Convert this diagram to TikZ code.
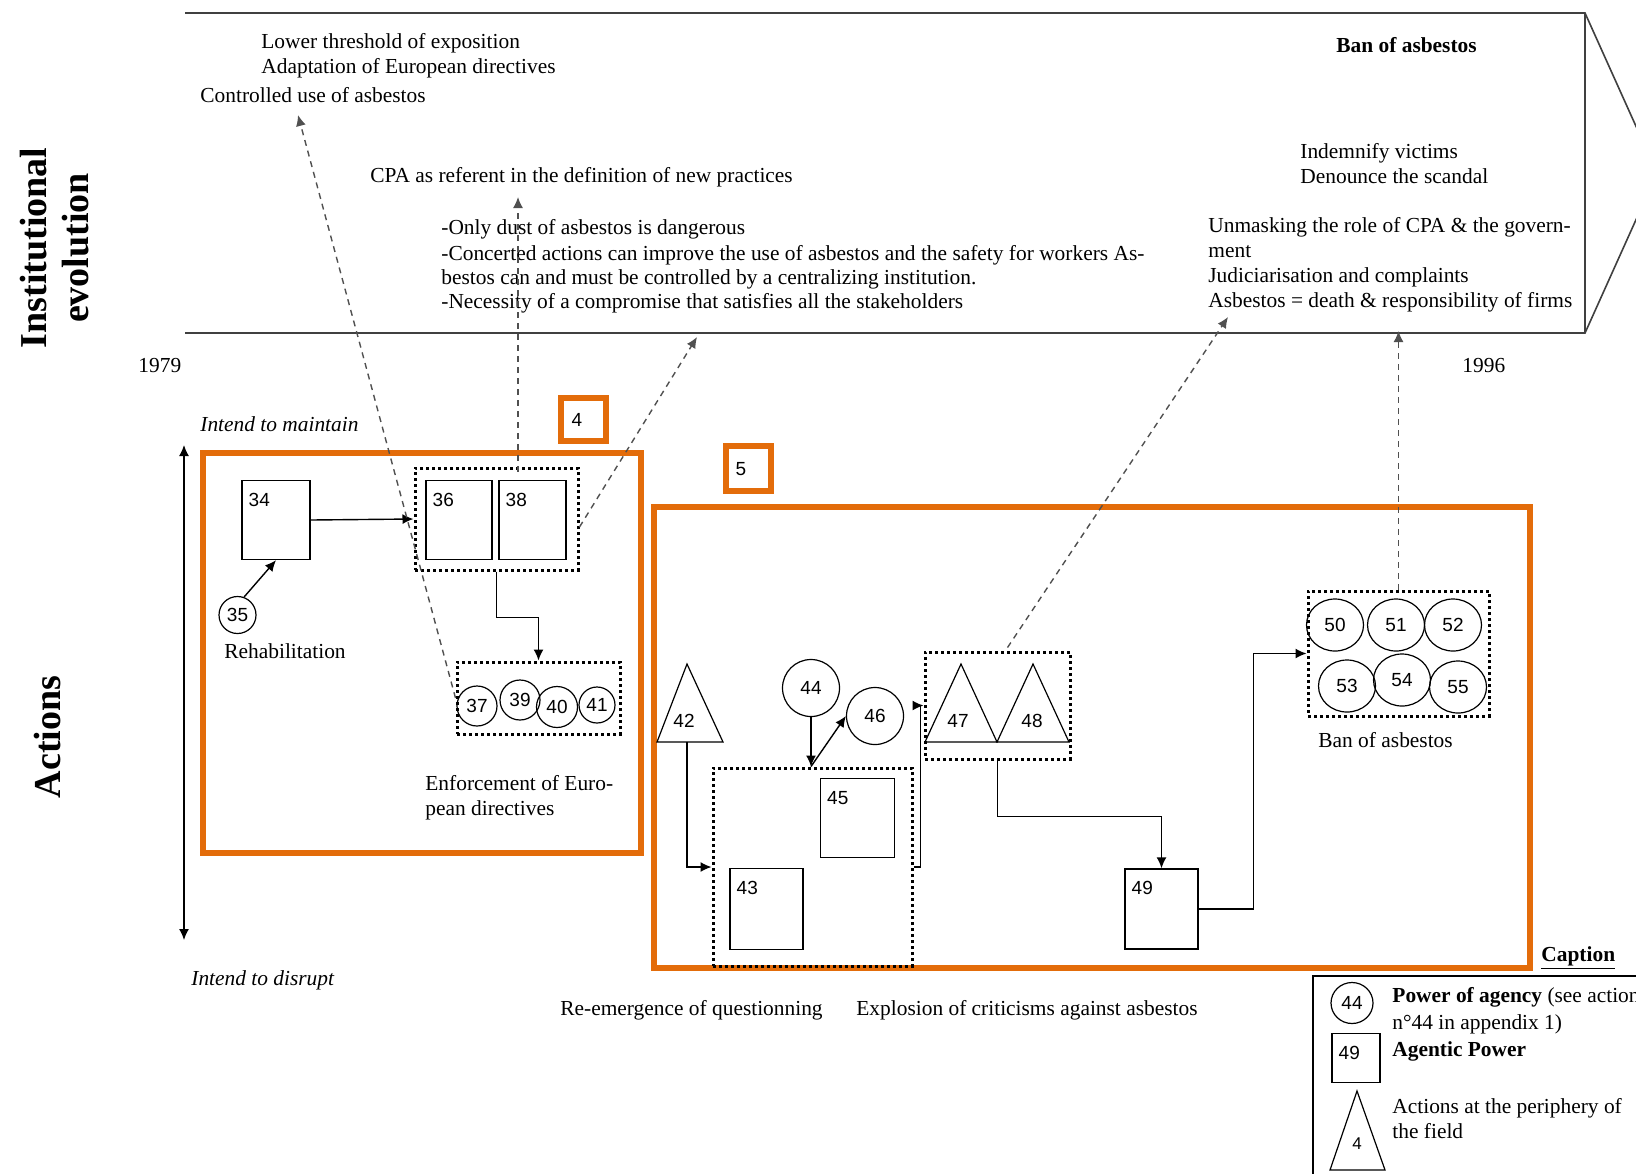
\documentclass[tikz,border=0pt]{standalone}
\usepackage{fontspec}
\setmainfont{Liberation Serif}
\newfontfamily\numfont{Liberation Sans}
\usetikzlibrary{arrows.meta,calc,shapes.geometric}
\definecolor{orng}{HTML}{E36C0A}
\definecolor{dgray}{HTML}{505050}
\begin{document}
\begin{tikzpicture}[x=0.5pt,y=-0.5pt,
  txt/.style={anchor=base west,inner sep=0pt,font=\fontsize{10.7}{12.5}\selectfont},
  itxt/.style={anchor=base west,inner sep=0pt,font=\fontsize{10.7}{12.5}\selectfont\itshape},
  btxt/.style={anchor=base west,inner sep=0pt,font=\fontsize{10.7}{12.5}\selectfont\bfseries},
  num/.style={inner sep=0pt,font=\numfont\fontsize{9.5}{10}\selectfont},
  sqbox/.style={draw,line width=0.7pt,inner sep=0pt},
  circ/.style={draw,line width=0.6pt,circle,inner sep=0pt,font=\numfont\fontsize{9.5}{10}\selectfont},
  ell/.style={draw,line width=0.6pt,ellipse,inner sep=0pt,minimum width=28.5pt,minimum height=26pt,font=\numfont\fontsize{9.5}{10}\selectfont},
  grp/.style={draw,line width=1.5pt,dash pattern=on 1.5pt off 1.5pt,inner sep=0pt},
  obox/.style={draw=orng,line width=2.8pt,inner sep=0pt},
  tri/.style={draw,line width=0.6pt},
  arr/.style={-{Latex[length=5.5pt,width=5pt]},line width=0.7pt},
  darr/.style={-{Latex[length=5.5pt,width=5pt]},line width=0.7pt,dgray,dash pattern=on 3pt off 2.5pt},
  rot/.style={rotate=90,font=\bfseries\fontsize{19}{20}\selectfont,inner sep=0pt},
  nw/.style={label={[num,anchor=north west,xshift=3.5pt,yshift=-6.5pt]north west:#1}}
]
\useasboundingbox (0,0) rectangle (1636,1173);
\clip (0,0) rectangle (1636,1173);

% ---- institutional evolution arrow ----
\draw[line width=0.8pt,black!75] (185,13) -- (1585,13) -- (1657,173) -- (1585,333) -- (185,333);
\draw[line width=0.8pt,black!75] (1585,13) -- (1585,333);

\node[rot] (inst1) at (34,248) {Institutional};
\node[rot] (inst2) at (76,248) {evolution};
\node[rot] (act) at (48,737) {Actions};

\node[txt] (t1) at (261,48) {Lower threshold of exposition};
\node[txt] (t2) at (261,73) {Adaptation of European directives};
\node[txt] (ctrl) at (200,102) {Controlled use of asbestos};
\node[txt] (cpa) at (370,182) {CPA as referent in the definition of new practices};
\node[txt] (d1) at (441,234) {-Only dust of asbestos is dangerous};
\node[txt] (d2) at (441,260) {-Concerted actions can improve the use of asbestos and the safety for workers As-};
\node[txt] (d3) at (441,284) {bestos can and must be controlled by a centralizing institution.};
\node[txt] (d4) at (441,308) {-Necessity of a compromise that satisfies all the stakeholders};
\node[btxt] (ban1) at (1336,52) {Ban of asbestos};
\node[txt] (r1) at (1300,158) {Indemnify victims};
\node[txt] (r2) at (1300,183) {Denounce the scandal};
\node[txt] (r3) at (1208,232) {Unmasking the role of CPA \& the govern-};
\node[txt] (r4) at (1208,257) {ment};
\node[txt] (r5) at (1208,282) {Judiciarisation and complaints};
\node[txt] (r6) at (1208,307) {Asbestos = death \& responsibility of firms};

\node[txt] (y1) at (138,372) {1979};
\node[txt] (y2) at (1462,372) {1996};

\node[itxt] (im) at (200,431) {Intend to maintain};
\node[itxt] (id) at (191,985) {Intend to disrupt};
\coordinate (vtop) at (184,445);
\coordinate (vbot) at (184,940);
\draw[{Latex[length=5.5pt,width=5pt]}-{Latex[length=5.5pt,width=5pt]},line width=0.7pt] (vtop) -- (vbot);

% ---- orange boxes ----
\node[obox,minimum width=219pt,minimum height=200pt] (box4) at (422,653) {};
\node[obox,minimum width=22.5pt,minimum height=21.5pt] (lb4) at (583.5,419.5) {};
\node[num] (n4) at (577,420) {4};
\node[obox,minimum width=438pt,minimum height=230.5pt] (box5) at (1092,737.5) {};
\node[obox,minimum width=22.5pt,minimum height=22.5pt] (lb5) at (748.5,468.5) {};
\node[num] (n5) at (741,469) {5};

% ---- box 4 contents ----
\node[sqbox,minimum width=34pt,minimum height=39.5pt,nw=34] (s34) at (276,520) {};
\node[circ,minimum size=18.5pt] (c35) at (237.5,615) {35};
\node[txt] (reh) at (224,658) {Rehabilitation};
\node[sqbox,minimum width=33pt,minimum height=39.5pt,nw=36] (s36) at (459,520) {};
\node[sqbox,minimum width=33.5pt,minimum height=39.5pt,nw=38] (s38) at (532.5,520) {};
\node[grp,minimum width=81.5pt,minimum height=51pt] (g3638) at (496.5,519) {};
\node[grp,minimum width=81.5pt,minimum height=36pt] (g3741) at (538.5,698) {};
\node[circ,minimum size=20pt] (c37) at (477,706) {37};
\node[circ,minimum size=20pt] (c39) at (520,700) {39};
\node[circ,minimum size=20.5pt] (c40) at (557,707) {40};
\node[circ,minimum size=18pt] (c41) at (597,705) {41};
\node[txt] (enf1) at (425,790) {Enforcement of Euro-};
\node[txt] (enf2) at (425,815) {pean directives};

\draw[arr] (c35.70) -- (s34.south);
\draw[arr] (s34.east) -- (g3638.west);
\draw[arr] (g3638.south) -- ++(0,46) -| (g3741.north);

% ---- box 5 contents ----
\draw[tri] (657,742) -- (687,664) -- (723,742) -- cycle;
\coordinate (t42) at (687,742);
\node[num] (n42) at (684,721) {42};
\node[sqbox,minimum width=37pt,minimum height=39.5pt,nw=45] (s45) at (857.5,818) {};
\node[sqbox,minimum width=36.5pt,minimum height=40.5pt,nw=43] (s43) at (766.5,909) {};
\node[grp,minimum width=99.5pt,minimum height=99pt] (g4345) at (812.5,867) {};
\node[circ,minimum size=28.5pt] (c44) at (811,688) {44};
\node[circ,minimum size=28.5pt] (c46) at (875,716) {46};
\draw[tri] (925,742) -- (961,664) -- (997,742) -- cycle;
\draw[tri] (997,742) -- (1033,664) -- (1069,742) -- cycle;
\node[num] (n47) at (958,721) {47};
\node[num] (n48) at (1032,721) {48};
\node[grp,minimum width=72.5pt,minimum height=53.5pt] (g4748) at (997.5,705.5) {};
\node[sqbox,minimum width=36.5pt,minimum height=40pt,nw=49] (s49) at (1161.5,909) {};
\node[grp,minimum width=90.5pt,minimum height=62.5pt] (g5055) at (1398.5,653.5) {};
\node[ell] (e50) at (1335,625) {50};
\node[ell] (e51) at (1396,625) {51};
\node[ell] (e52) at (1453,625) {52};
\node[ell] (e53) at (1347,686) {53};
\node[ell] (e54) at (1402,680) {54};
\node[ell] (e55) at (1458,687) {55};
\node[txt] (ban2) at (1318,747) {Ban of asbestos};

\coordinate (j44) at (c44.south |- g4345.north);
\draw[arr] (t42) |- (g4345.west);
\draw[arr] (c44.south) -- (j44);
\draw[arr] (j44) -- (c46.west);
\draw[arr] (g4345.east) -- ++(7,0) |- (g4748.west);
\draw[arr] (g4748.south) -- ++(0,56) -| (s49.north);
\draw[arr] (s49.east) -- ++(55,0) |- (g5055.west);

\node[txt] (reem) at (560,1015) {Re-emergence of questionning};
\node[txt] (expl) at (856,1015) {Explosion of criticisms against asbestos};

% ---- dashed links to institutional evolution ----
\coordinate (e1) at (298,115);
\coordinate (e2) at (518,197);
\coordinate (e3) at (697,337);
\coordinate (e4) at (1228,317);
\coordinate (e5) at (1398.5,331);
\draw[darr] (g3741.west) -- (e1);
\draw[darr] ($(g3638.north)+(21.5,5)$) -- (e2);
\draw[darr] ($(g3638.east)+(0,8)$) -- (e3);
\draw[darr] ($(g4748.north)+(10,-3)$) -- (e4);
\draw[darr] (g5055.north) -- (e5);

% ---- caption ----
\node[btxt] (cap) at (1541,961) {\underline{Caption}};
\draw[line width=0.7pt] (1700,976) -- (1313,976) -- (1313,1200);
\node[draw,line width=0.6pt,ellipse,inner sep=0pt,minimum width=21pt,minimum height=20.5pt,font=\numfont\fontsize{9.5}{10}\selectfont] (k44) at (1352,1003) {44};
\node[txt] (kt1) at (1392,1002) {\textbf{Power of agency} (see action};
\node[txt] (kt2) at (1392,1029) {n°44 in appendix 1)};
\node[sqbox,minimum width=24pt,minimum height=24.5pt,nw=49] (k49) at (1356,1058) {};
\node[btxt] (kt3) at (1392,1056) {Agentic Power};
\draw[tri] (1330,1170) -- (1357,1091) -- (1385,1170) -- cycle;
\node[num,font=\numfont\fontsize{8.5}{9}\selectfont] (k4) at (1357,1144) {4};
\node[txt] (kt4) at (1392,1113) {Actions at the periphery of};
\node[txt] (kt5) at (1392,1138) {the field};
\end{tikzpicture}
\end{document}
